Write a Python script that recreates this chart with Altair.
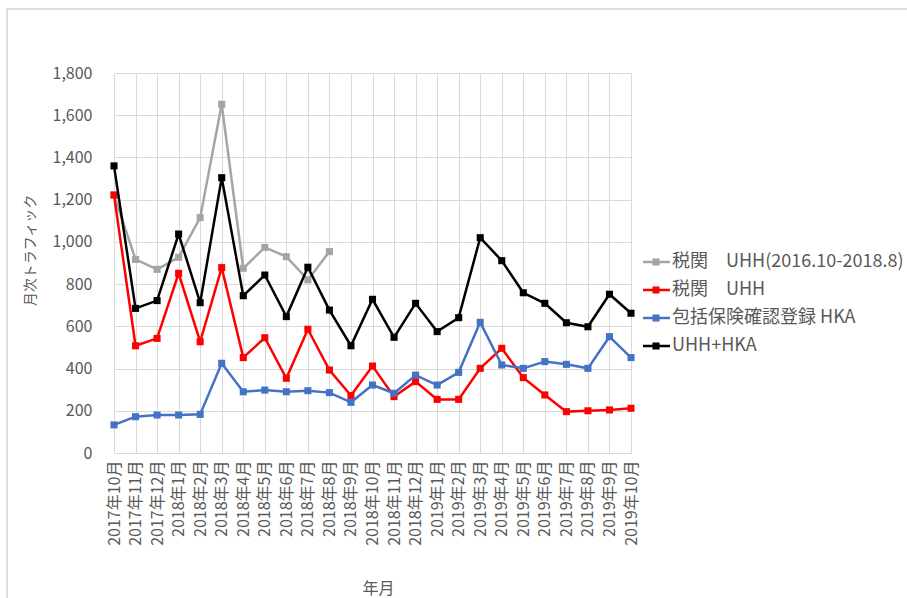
import altair as alt
import pandas as pd

# Month categories (x axis)
months = [
    "2017年10月", "2017年11月", "2017年12月",
    "2018年1月", "2018年2月", "2018年3月", "2018年4月", "2018年5月", "2018年6月",
    "2018年7月", "2018年8月", "2018年9月", "2018年10月", "2018年11月", "2018年12月",
    "2019年1月", "2019年2月", "2019年3月", "2019年4月", "2019年5月", "2019年6月",
    "2019年7月", "2019年8月", "2019年9月", "2019年10月",
]

# Series names, in drawing / legend order
series_names = [
    "税関　UHH(2016.10-2018.8)",
    "税関　UHH",
    "包括保険確認登録 HKA",
    "UHH+HKA",
]
series_colors = ["#A5A5A5", "#FF0000", "#4472C4", "#000000"]

# Monthly traffic values
uhh_old = [1222, 917, 870, 927, 1115, 1652, 875, 974, 930, 820, 954]
uhh = [1222, 508, 543, 851, 527, 878, 452, 546, 354, 586, 393, 272, 412,
       267, 338, 254, 254, 401, 496, 357, 275, 196, 200, 204, 212]
hka = [133, 172, 180, 180, 183, 425, 290, 298, 290, 295, 286, 240, 322,
       283, 369, 322, 382, 619, 417, 401, 433, 420, 401, 551, 452]
uhh_hka = [1360, 685, 722, 1037, 712, 1304, 745, 843, 646, 880, 677, 508, 728,
           548, 709, 575, 641, 1020, 911, 759, 709, 617, 598, 752, 662]

series_values = [uhh_old, uhh, hka, uhh_hka]

FONT = "Noto Sans CJK JP"
TEXT_COLOR = "#595959"
GRID_COLOR = "#D9D9D9"

x_enc = alt.X(
    "month:O",
    sort=months,
    scale=alt.Scale(type="point", padding=0, domain=months),
    axis=alt.Axis(
        title="年月",
        labelAngle=-90,
        labelPadding=7,
        labelFontSize=16,
        grid=True,
        domain=False,
        ticks=False,
        titleX=264,
        titleY=135,
        titleBaseline="middle",
        titleFontSize=16,
    ),
)
y_enc = alt.Y(
    "value:Q",
    scale=alt.Scale(domain=[0, 1800], nice=False, zero=True),
    axis=alt.Axis(
        title="月次トラフィック",
        values=list(range(0, 1801, 200)),
        format=",.0f",
        labelPadding=22,
        labelFontSize=16,
        domain=False,
        ticks=False,
        titleX=-84,
        titleY=177,
        titleBaseline="middle",
        titleFontSize=14,
    ),
)

# One line + square-marker layer per series, later series on top
series_layers = []
for name, color, vals in zip(series_names, series_colors, series_values):
    df = pd.DataFrame({"month": months[: len(vals)], "value": vals, "series": name})
    base = alt.Chart(df)
    series_layers.append(
        base.mark_line(color=color, strokeWidth=2.5).encode(x=x_enc, y=y_enc)
    )
    series_layers.append(
        base.mark_square(color=color, size=50, opacity=1).encode(x=x_enc, y=y_enc)
    )
main = alt.layer(*series_layers)

# Legend built from the same series list
legend_df = pd.DataFrame({"series": series_names})
leg_y = alt.Y(
    "series:N",
    sort=series_names,
    scale=alt.Scale(type="point", domain=series_names, range=[189, 273], padding=0),
    axis=None,
)
leg_color = alt.Color(
    "series:N",
    scale=alt.Scale(domain=series_names, range=series_colors),
    legend=None,
)
leg_base = alt.Chart(legend_df)
legend = alt.layer(
    leg_base.mark_rule(strokeWidth=2.5).encode(
        x=alt.value(529), x2=alt.value(556), y=leg_y, color=leg_color
    ),
    leg_base.mark_square(size=50, opacity=1).encode(
        x=alt.value(542), y=leg_y, color=leg_color
    ),
    leg_base.mark_text(
        align="left", baseline="middle", fontSize=18, font=FONT, color=TEXT_COLOR
    ).encode(x=alt.value(558), y=leg_y, text="series:N"),
)

# Thin outer frame of the chart area
frame_df = pd.DataFrame({"k": [0]})
frame = alt.layer(
    alt.Chart(frame_df).mark_rule(color="#D0D0D0", strokeWidth=1.5).encode(
        x=alt.value(-107), y=alt.value(-64), y2=alt.value(540)
    ),
    alt.Chart(frame_df).mark_rule(color="#D0D0D0", strokeWidth=1.5).encode(
        x=alt.value(-107), x2=alt.value(820), y=alt.value(-64)
    ),
)

chart = (
    alt.layer(main, legend, frame)
    .resolve_scale(y="independent", color="independent")
    .properties(
        width=517,
        height=380,
        autosize=alt.AutoSizeParams(type="none"),
        padding={"left": 114, "top": 73, "right": 276, "bottom": 145},
        background="white",
    )
    .configure_view(stroke=None)
    .configure_axis(
        labelFont=FONT,
        titleFont=FONT,
        labelColor=TEXT_COLOR,
        titleColor=TEXT_COLOR,
        titleFontWeight="normal",
        gridColor=GRID_COLOR,
        gridWidth=1,
    )
)

chart.save("out.html", embed_options={"renderer": "svg", "actions": False})
